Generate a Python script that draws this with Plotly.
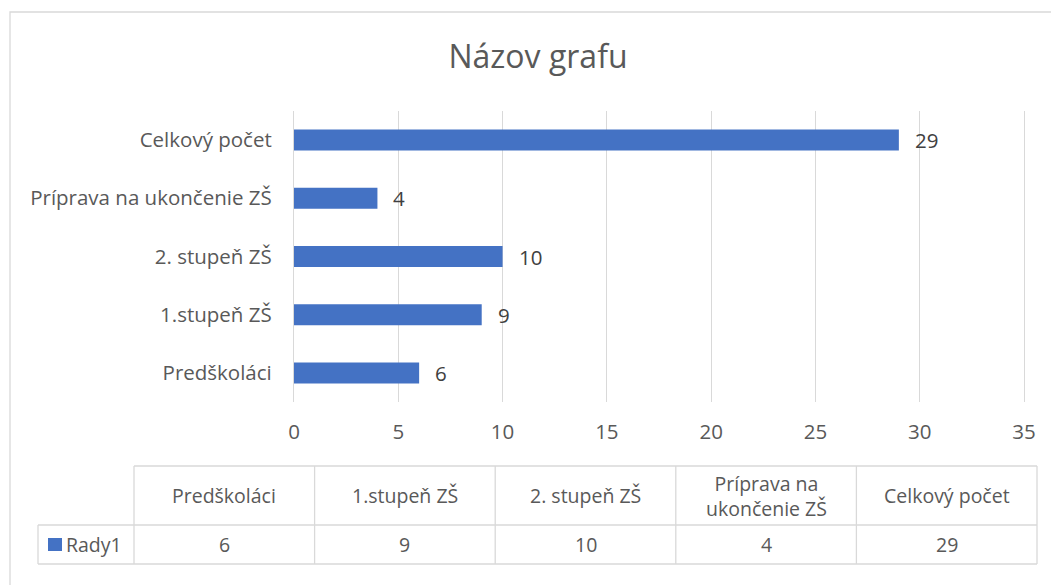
import textwrap
import plotly.graph_objects as go

# ---- data ----
categories = ["Predškoláci", "1.stupeň ZŠ", "2. stupeň ZŠ", "Príprava na ukončenie ZŠ", "Celkový počet"]
values = [6, 9, 10, 4, 29]
series_name = "Rady1"
title_text = "Názov grafu"
x_ticks = [0, 5, 10, 15, 20, 25, 30, 35]

# ---- layout geometry (pixels) ----
W, H = 1051, 585
L, R, T, B = 294, 27, 111, 183
PW = W - L - R
PH = H - T - B

def px2x(px):
    return (px - L) / PW

def py2y(py):
    return (H - B - py) / PH

FONT = "Open Sans"
GRID = "#d9d9d9"
TXT = "#595959"
BAR = "#4472C4"
FS = 20.5
TFS = 19.5

fig = go.Figure()
fig.add_trace(go.Bar(
    y=categories, x=values, orientation="h", width=0.36,
    marker=dict(color=BAR, line=dict(width=0)),
    name=series_name, showlegend=False, hoverinfo="skip",
))

annotations = []
# data labels
for c, v in zip(categories, values):
    annotations.append(dict(x=v, y=c, xref="x", yref="y", text=str(v), showarrow=False,
                            xanchor="left", yanchor="middle", xshift=14,
                            font=dict(family=FONT, size=FS, color="#404040")))

shapes = []
# outer chart border
shapes.append(dict(type="rect", xref="paper", yref="paper",
                   x0=px2x(10), x1=px2x(1062), y0=py2y(600), y1=py2y(12),
                   line=dict(color=GRID, width=1.3), fillcolor="rgba(0,0,0,0)", layer="below"))

# data table
tx0, tx1 = 134, 1037
ty0, ty1, ty2 = 466, 525, 564
lx0 = 38
n = len(categories)
cw = (tx1 - tx0) / n

def hline(py, a, b):
    shapes.append(dict(type="line", xref="paper", yref="paper",
                       x0=px2x(a), x1=px2x(b), y0=py2y(py), y1=py2y(py),
                       line=dict(color=GRID, width=1.3)))

def vline(px, a, b):
    shapes.append(dict(type="line", xref="paper", yref="paper",
                       x0=px2x(px), x1=px2x(px), y0=py2y(a), y1=py2y(b),
                       line=dict(color=GRID, width=1.3)))

hline(ty0, tx0, tx1)
hline(ty1, lx0, tx1)
hline(ty2, lx0, tx1)
vline(lx0, ty1, ty2)
for i in range(n + 1):
    vline(tx0 + i * cw, ty0, ty2)

for i, (c, v) in enumerate(zip(categories, values)):
    cx = tx0 + (i + 0.5) * cw
    annotations.append(dict(x=px2x(cx), y=py2y((ty0 + ty1) / 2), xref="paper", yref="paper",
                            text="<br>".join(textwrap.wrap(c, 15)), showarrow=False,
                            xanchor="center", yanchor="middle",
                            font=dict(family=FONT, size=TFS, color=TXT)))
    annotations.append(dict(x=px2x(cx), y=py2y((ty1 + ty2) / 2), xref="paper", yref="paper",
                            text=str(v), showarrow=False, xanchor="center", yanchor="middle",
                            font=dict(family=FONT, size=TFS, color=TXT)))

# legend key in table
shapes.append(dict(type="rect", xref="paper", yref="paper",
                   x0=px2x(48), x1=px2x(62), y0=py2y(551), y1=py2y(538),
                   fillcolor=BAR, line=dict(width=0)))
annotations.append(dict(x=px2x(64), y=py2y((ty1 + ty2) / 2), xref="paper", yref="paper",
                        text=series_name, showarrow=False, xanchor="left", yanchor="middle",
                        font=dict(family=FONT, size=TFS, color=TXT)))

fig.update_layout(
    width=W, height=H,
    margin=dict(l=L, r=R, t=T, b=B, pad=0),
    paper_bgcolor="white", plot_bgcolor="white",
    title=dict(text=title_text, x=px2x(538), xref="paper", xanchor="center",
               y=1 - 57 / H, yanchor="middle",
               font=dict(family=FONT, size=32, color=TXT)),
    xaxis=dict(range=[0, 35], tickvals=x_ticks, showgrid=True, gridcolor=GRID, gridwidth=1.3,
               zeroline=False, showline=False, ticks="", ticklabelstandoff=15,
               tickfont=dict(family=FONT, size=FS, color=TXT), fixedrange=True),
    yaxis=dict(showgrid=False, zeroline=False, showline=True, mirror=True, linecolor=GRID,
               linewidth=1.3, ticks="", ticklabelstandoff=17,
               tickfont=dict(family=FONT, size=FS, color=TXT), fixedrange=True),
    shapes=shapes, annotations=annotations,
    showlegend=False,
)

fig.write_html("out.html", config={"displayModeBar": False},
               post_script="document.body.style.margin='0';document.body.style.overflow='hidden';")
